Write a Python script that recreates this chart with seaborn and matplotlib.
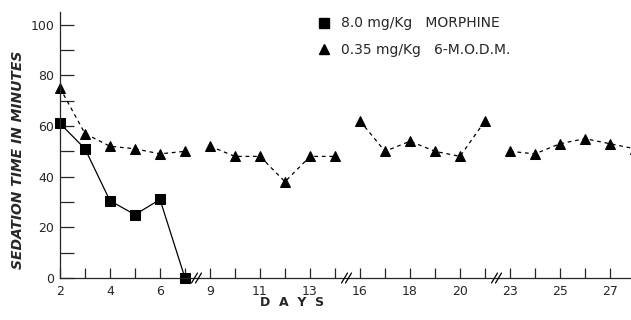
import pandas as pd
import seaborn as sns
import matplotlib.pyplot as plt
from matplotlib.lines import Line2D

# Data
morphine_days = [2, 3, 4, 5, 6, 7]
morphine_vals = [61, 51, 30.5, 25, 31, 0]

modm_days = [2, 3, 4, 5, 6, 7,
             9, 10, 11, 12, 13, 14,
             16, 17, 18, 19, 20, 21,
             23, 24, 25, 26, 27, 28]
modm_vals = [75, 57, 52, 51, 49, 50,
             52, 48, 48, 38, 48, 48,
             62, 50, 54, 50, 48, 62,
             50, 49, 53, 55, 53, 51]

# broken x axis: day range shown in each piece
segments = [(2, 7.5), (8.5, 14.5), (15.5, 21.5), (22.5, 27.84)]
tick_labels = [[2, 4, 6], [9, 11, 13], [16, 18, 20], [23, 25, 27]]

morph = pd.DataFrame({'day': morphine_days, 'value': morphine_vals})
modm = pd.DataFrame({'day': modm_days, 'value': modm_vals})

sns.set_style('ticks')
plt.rcParams['font.family'] = ['DejaVu Sans']

fig = plt.figure(figsize=(6.31, 3.20), dpi=100)

W, H = 631.0, 320.0
x_edges = [60, 197.5, 347.5, 497.5, 631]
bottom = 42 / H
height = 266 / H

for i, (lo, hi) in enumerate(segments):
    left = x_edges[i] / W
    width = (x_edges[i + 1] - x_edges[i]) / W
    ax = fig.add_axes([left, bottom, width, height])
    ax.patch.set_alpha(0)
    last = i == len(segments) - 1

    seg = modm[(modm['day'] >= lo) & (modm['day'] <= hi + 1)]
    sns.lineplot(data=seg, x='day', y='value', ax=ax, color='black',
                 marker='^', markersize=7.5, markeredgecolor='black',
                 linewidth=0.9, linestyle=(0, (3, 3)), clip_on=last)
    if i == 0:
        sns.lineplot(data=morph, x='day', y='value', ax=ax, color='black',
                     marker='s', markersize=7.5, markeredgecolor='black',
                     linewidth=0.9, clip_on=False)

    ax.set_xlim(lo, hi)
    ax.set_ylim(0, 105)
    days = range(int(lo + 0.5), int(hi) + 1)
    ax.set_xticks(days)
    ax.set_xticklabels([str(d) if d in tick_labels[i] else '' for d in days])
    ax.tick_params(axis='x', direction='in', length=7, width=0.9, pad=5,
                   labelsize=9)
    ax.set_xlabel('')
    ax.set_ylabel('')
    for s in ['top', 'right']:
        ax.spines[s].set_visible(False)
    ax.spines['bottom'].set_linewidth(0.9)
    if i == 0:
        ax.set_yticks(range(0, 101, 10))
        ax.set_yticklabels([str(v) if v % 20 == 0 else '' for v in range(0, 101, 10)])
        ax.tick_params(axis='y', direction='in', length=10, width=0.9, pad=4,
                       labelsize=9)
        ax.spines['left'].set_linewidth(0.9)
    else:
        ax.spines['left'].set_visible(False)
        ax.set_yticks([])

# "//" break marks on the day axis
for bx in x_edges[1:4]:
    for off in (-3, 1):
        fig.add_artist(Line2D([(bx + off - 3) / W, (bx + off + 3) / W],
                              [(H - 283) / H, (H - 273) / H],
                              color='black', linewidth=0.9))

fig.text(18 / W, 0.5, 'SEDATION TIME IN MINUTES', rotation=90, ha='center',
         va='center', fontsize=10, fontstyle='italic', fontweight='bold')
fig.text(292 / W, (H - 303) / H, 'D  A  Y  S', ha='center', va='center',
         fontsize=9, fontweight='bold')

# legend
handles = [Line2D([], [], color='black', marker='s', linestyle='none', markersize=6.5),
           Line2D([], [], color='black', marker='^', linestyle='none', markersize=6.5)]
fig.legend(handles, ['8.0 mg/Kg   MORPHINE', '0.35 mg/Kg   6-M.O.D.M.'],
           loc='upper left', bbox_to_anchor=(306 / W, 1 - 4 / H), frameon=False,
           handlelength=0.8, handletextpad=0.8, labelspacing=0.9, fontsize=10)

fig.savefig('out.png', dpi=100)
